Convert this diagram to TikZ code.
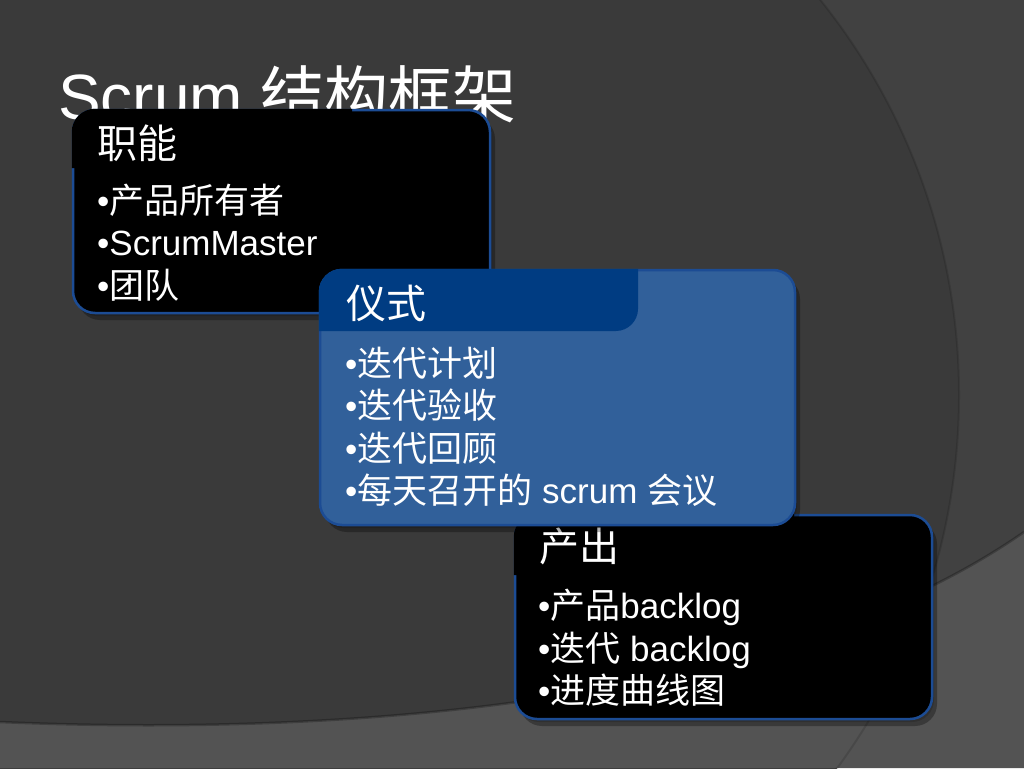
\documentclass[tikz,border=0pt]{standalone}
\usepackage{fontspec}
\setmainfont{Liberation Sans}
\newfontfamily\cjk{Noto Sans CJK SC}
\newcommand{\zhtext}[1]{{\cjk #1}}
\definecolor{bgmain}{HTML}{3A3A3A}
\definecolor{bgouter}{HTML}{414141}
\definecolor{bgbottom}{HTML}{535353}
\definecolor{boxborder}{HTML}{1C4C94}
\definecolor{boxblue}{HTML}{31609A}
\definecolor{tabblue}{HTML}{003C82}
\begin{document}
\begin{tikzpicture}[x=1pt,y=-1pt,
  panel/.style={draw=boxborder, line width=2.5pt, rounded corners=22pt, fill=black, inner sep=0pt, outer sep=0pt, anchor=north west},
  shade/.style={fill=black, draw=none, rounded corners=22pt, inner sep=0pt, outer sep=0pt, anchor=north west},
  headtxt/.style={text=white, anchor=base west, inner sep=0pt, font=\cjk\fontsize{40}{48}\selectfont},
  itemtxt/.style={text=white, anchor=base west, inner sep=0pt, font=\fontsize{35}{42}\selectfont},
  titletxt/.style={text=white, anchor=base west, inner sep=0pt, font=\fontsize{64}{72}\selectfont}
]
\useasboundingbox (0,0) rectangle (1024,768);
% background
\begin{scope}
\clip (0,0) rectangle (1024,768);
\fill[bgouter] (0,0) rectangle (1024,768);
\fill[bgmain] (327,395) circle[radius=632];
\fill[bgbottom] (0,722) .. controls (300,735) and (760,716) .. (1024,532) -- (1024,768) -- (0,768) -- cycle;
\draw[black, opacity=0.25, line width=2.5pt] (0,722) .. controls (300,735) and (760,716) .. (1024,532);
\draw[black, opacity=0.12, line width=2pt] (327,395) circle[radius=632];
\end{scope}
% title
\node[titletxt] (title) at (58,119) {Scrum \zhtext{结构框架}};
% box 1
\node[shade, opacity=0.15, minimum width=417pt, minimum height=203pt] (b1sa) at (75,113) {};
\node[shade, opacity=0.3, minimum width=417pt, minimum height=203pt] (b1sb) at (78,117) {};
\node[panel, minimum width=417pt, minimum height=203pt] (b1) at (73,110) {};
\fill[black] (71.75,168) -- (71.75,132) .. controls (71.75,119.2) and (82.2,108.75) .. (95,108.75) -- (352,108.75) -- (352,148) .. controls (352,160) and (344,168) .. (332,168) -- cycle;
\node[headtxt] (b1h) at (97,158) {职能};
\node[itemtxt] (b1i1) at (97,213) {•\zhtext{产品所有者}};
\node[itemtxt] (b1i2) at (97,255) {•ScrumMaster};
\node[itemtxt] (b1i3) at (97,298) {•\zhtext{团队}};
% box 3
\node[shade, opacity=0.15, minimum width=417pt, minimum height=204pt] (b3sa) at (517,518) {};
\node[shade, opacity=0.3, minimum width=417pt, minimum height=204pt] (b3sb) at (520,522) {};
\node[panel, minimum width=417pt, minimum height=204pt] (b3) at (515,515) {};
\fill[black] (513.75,575) -- (513.75,537) .. controls (513.75,524.2) and (524.2,513.75) .. (537,513.75) -- (794,513.75) -- (794,553) .. controls (794,565) and (784,575) .. (772,575) -- cycle;
\node[headtxt] (b3h) at (539,561) {产出};
\node[itemtxt] (b3i1) at (538,618) {•\zhtext{产品}backlog};
\node[itemtxt] (b3i2) at (538,661) {•\zhtext{迭代} backlog};
\node[itemtxt] (b3i3) at (538,703) {•\zhtext{进度曲线图}};
% box 2
\node[shade, opacity=0.15, minimum width=475pt, minimum height=255pt] (b2sa) at (322,273) {};
\node[shade, opacity=0.3, minimum width=475pt, minimum height=255pt] (b2sb) at (325,277) {};
\node[panel, fill=boxblue, minimum width=475pt, minimum height=255pt] (b2) at (320,270) {};
\fill[tabblue] (318.75,331) -- (318.75,292) .. controls (318.75,279.2) and (329.2,268.75) .. (342,268.75) -- (638,268.75) -- (638,309) .. controls (638,321) and (628,331) .. (616,331) -- cycle;
\node[headtxt] (b2h) at (346,318) {仪式};
\node[itemtxt] (b2i1) at (345,376) {•\zhtext{迭代计划}};
\node[itemtxt] (b2i2) at (345,418) {•\zhtext{迭代验收}};
\node[itemtxt] (b2i3) at (345,461) {•\zhtext{迭代回顾}};
\node[itemtxt] (b2i4) at (345,503) {•\zhtext{每天召开的} scrum \zhtext{会议}};
\end{tikzpicture}
\end{document}
